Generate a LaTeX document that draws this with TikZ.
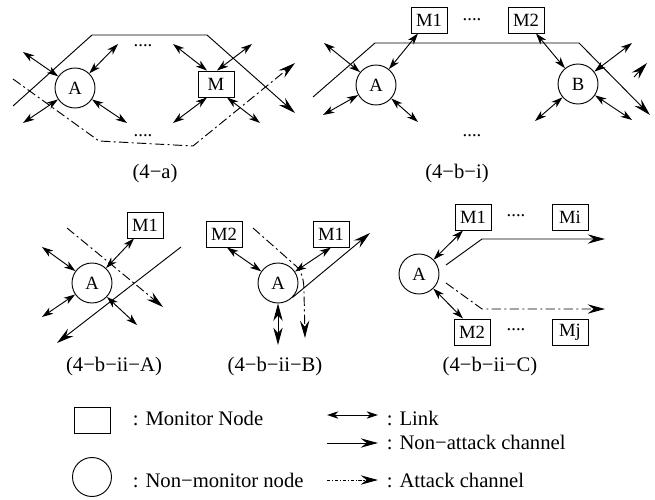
\documentclass[tikz,border=0pt]{standalone}
\usepackage{fontspec}
\setmainfont{Liberation Serif}
\usetikzlibrary{arrows.meta,calc}

\begin{document}
\begin{tikzpicture}[x=0.75pt,y=-0.75pt,line width=0.7pt,
  every node/.style={font=\fontsize{14}{16}\selectfont},
  mon/.style={draw,rectangle,minimum width=27pt,minimum height=19.5pt,inner sep=0pt},
  hst/.style={draw,circle,minimum size=30pt,inner sep=0pt},
  lnk/.style={{Stealth[length=8.5pt,width=5.5pt,inset=2.5pt]}-{Stealth[length=8.5pt,width=5.5pt,inset=2.5pt]}},
  biglnk/.style={{Stealth[length=13pt,width=7pt,inset=4pt]}-{Stealth[length=13pt,width=7pt,inset=4pt]}},
  chan/.style={-{Stealth[length=13pt,width=7pt,inset=4.5pt]}},
  atk/.style={chan,dash pattern=on 7pt off 2.5pt on 1.5pt off 2.5pt},
  captxt/.style={font=\fontsize{15.5}{18}\selectfont,anchor=base},
  legtxt/.style={font=\fontsize{15.5}{18}\selectfont,anchor=base west},
  dots/.style={anchor=base}]
\useasboundingbox (0,0) rectangle (655,499);

% ---------- (4-a) ----------
\node[hst] (A1) at (75,88) {A};
\node[mon] (M) at (216,84) {M};
\coordinate (a1) at (13,106); \coordinate (a2) at (92,35);
\coordinate (a3) at (207,35); \coordinate (a4) at (295,113);
\draw[chan] (a1) -- (a2) -- (a3) -- (a4);
\coordinate (b1) at (13,79); \coordinate (b2) at (99,141);
\coordinate (b3) at (193,146); \coordinate (b4) at (295,63);
\draw[atk] (b1) -- (b2) -- (b3) -- (b4);
\coordinate (l1) at (23,52); \coordinate (l2) at (118,44);
\coordinate (l3) at (23,123); \coordinate (l4) at (127,123);
\draw[lnk] (l1) -- (A1); \draw[lnk] (l2) -- (A1);
\draw[lnk] (l3) -- (A1); \draw[lnk] (l4) -- (A1);
\coordinate (l5) at (173,44); \coordinate (l6) at (252,44);
\coordinate (l7) at (173,123); \coordinate (l8) at (260,123);
\draw[lnk] (l5) -- ($(M.north)+(-9,0)$);
\draw[lnk] (l6) -- ($(M.north)+(1,0)$);
\draw[lnk] (l7) -- ($(M.south)+(-9,0)$);
\draw[lnk] (l8) -- ($(M.south)+(11,0)$);
\node[dots] (d1) at (143,47) {....};
\node[dots] (d2) at (143,137) {....};
\node[captxt] (c1) at (155,178) {(4−a)};

% ---------- (4-b-i) ----------
\node[hst] (A2) at (376,85) {A};
\node[hst] (B) at (578,84) {B};
\node[mon] (M1b) at (429,20) {M1};
\node[mon] (M2b) at (526,20) {M2};
\node[dots] (d3) at (472,21) {....};
\node[dots] (d4) at (472,137) {....};
\coordinate (s1) at (313,97); \coordinate (s2) at (375,43);
\coordinate (s3) at (579,43); \coordinate (s4) at (650,115);
\draw[chan] (s1) -- (s2) -- (s3) -- (s4);
\coordinate (t1) at (634,77); \coordinate (t2) at (647,63);
\draw[chan] (t1) -- (t2);
\coordinate (m1) at (324,43); \coordinate (m2) at (323,115);
\coordinate (m3) at (418,122);
\draw[lnk] (m1) -- (A2); \draw[lnk] (m2) -- (A2); \draw[lnk] (m3) -- (A2);
\draw[lnk] ($(M1b.south)+(-11,0)$) -- (A2);
\coordinate (n1) at (632,43); \coordinate (n2) at (535,121);
\coordinate (n3) at (632,120);
\draw[lnk] (n1) -- (B); \draw[lnk] (n2) -- (B); \draw[lnk] (n3) -- (B);
\draw[lnk] ($(M2b.south)+(10,0)$) -- (B);
\node[captxt] (c2) at (457,178) {(4−b−i)};

% ---------- (4-b-ii-A) ----------
\node[hst] (A3) at (92,283) {A};
\node[mon] (M1c) at (145,225) {M1};
\coordinate (e1) at (67,228); \coordinate (e2) at (163,307);
\draw[atk] (e1) -- (e2);
\coordinate (f1) at (181,247); \coordinate (f2) at (57,343);
\draw[chan] (f1) -- (f2);
\coordinate (g1) at (42,247); \coordinate (g2) at (42,317);
\coordinate (g3) at (137,325);
\draw[lnk] (g1) -- (A3); \draw[lnk] (g2) -- (A3); \draw[lnk] (g3) -- (A3);
\draw[lnk] ($(M1c.south)+(-11,0)$) -- (A3);
\node[captxt] (c3) at (114,371) {(4−b−ii−A)};

% ---------- (4-b-ii-B) ----------
\node[hst] (A4) at (278,283) {A};
\node[mon] (M2d) at (224,234) {M2};
\node[mon] (M1d) at (331,234) {M1};
\draw[lnk] ($(M2d.south)+(3,0)$) -- (A4);
\draw[lnk] (M1d.south) -- (A4);
\coordinate (h1) at (278,345);
\draw[biglnk] (A4.south) -- (h1);
\coordinate (h2) at (370,233);
\draw[chan] (A4.-45) -- (h2);
\coordinate (k1) at (253,228); \coordinate (k2) at (296,266);
\coordinate (k3) at (304,292); \coordinate (k4) at (305,338);
\draw[atk] (k1) -- (k2) .. controls (302,272) and (304,280) .. (k3) -- (k4);
\node[captxt] (c4) at (275,371) {(4−b−ii−B)};

% ---------- (4-b-ii-C) ----------
\node[hst] (A5) at (419,274) {A};
\node[mon] (M1e) at (473,217) {M1};
\node[mon] (Mi) at (570,217) {Mi};
\node[mon] (M2e) at (472,332) {M2};
\node[mon] (Mj) at (570,332) {Mj};
\node[dots] (d5) at (516,216) {....};
\node[dots] (d6) at (516,330) {....};
\draw[lnk] ($(M1e.south)+(-10,0)$) -- (A5);
\draw[lnk] ($(M2e.north)+(-9,0)$) -- (A5);
\coordinate (p1) at (446,265); \coordinate (p2) at (482,239); \coordinate (p3) at (605,239);
\draw[chan] (p1) -- (p2) -- (p3);
\coordinate (q1) at (446,283); \coordinate (q2) at (482,309); \coordinate (q3) at (605,309);
\draw[atk] (q1) -- (q2) -- (q3);
\node[captxt] (c5) at (490,371) {(4−b−ii−C)};

% ---------- legend ----------
\node[mon] (lgm) at (92,420) {};
\node[legtxt] (lgmt) at (128,425) {: Monitor Node};
\node[draw,circle,minimum size=29.25pt,inner sep=0pt] (lgh) at (92,477) {};
\node[legtxt] (lght) at (128,487) {: Non−monitor node};
\coordinate (r1) at (327,415); \coordinate (r2) at (378,415);
\draw[lnk] (r1) -- (r2);
\node[legtxt] (lgl) at (382,425) {: Link};
\coordinate (r3) at (327,443); \coordinate (r4) at (378,443);
\draw[chan] (r3) -- (r4);
\node[legtxt] (lgn) at (382,449) {: Non−attack channel};
\coordinate (r5) at (327,480); \coordinate (r6) at (378,480);
\draw[chan,dash pattern=on 2.5pt off 1.2pt on 1pt off 1.2pt] (r5) -- (r6);
\node[legtxt] (lga) at (382,487) {: Attack channel};
\end{tikzpicture}
\end{document}
